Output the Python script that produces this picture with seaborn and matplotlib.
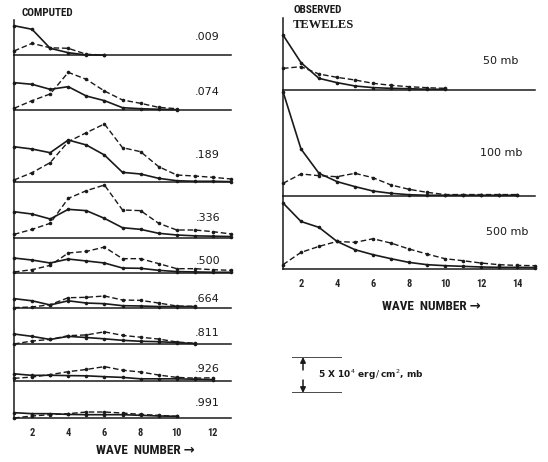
import matplotlib
matplotlib.use("Agg")
import matplotlib.pyplot as plt
import seaborn as sns
from matplotlib import font_manager

# spectra in units of 1e4 erg/cm^2/mb, index 0 = wave number 1
# computed, one pair per sigma level (solid / dashed)
sigma_labels = [".009", ".074", ".189", ".336", ".500", ".664", ".811", ".926", ".991"]

c009_solid = [4.07, 3.57, 0.93, 0.32, 0.0, 0.0]
c009_dash = [0.56, 1.62, 1.0, 0.93, 0.1, 0.0]
c074_solid = [3.8, 3.57, 2.87, 3.24, 1.94, 1.3, 0.32, 0.18, 0.1, 0.05]
c074_dash = [0.23, 1.3, 2.22, 5.23, 4.26, 2.64, 1.39, 0.93, 0.37, 0.18]
c189_solid = [4.9, 4.58, 4.07, 5.83, 5.14, 3.75, 1.34, 1.11, 0.51, 0.18, 0.1, 0.1, 0.05]
c189_dash = [0.28, 1.3, 2.69, 5.6, 6.85, 8.06, 4.77, 4.21, 2.13, 0.97, 0.83, 0.65, 0.42]
c336_solid = [3.65, 3.33, 2.64, 3.98, 3.8, 2.73, 1.43, 1.2, 0.65, 0.42, 0.3, 0.25, 0.2]
c336_dash = [0.5, 1.2, 2.04, 5.5, 6.57, 7.36, 3.89, 3.8, 2.04, 1.11, 1.11, 0.88, 0.56]
c500_solid = [2.08, 1.8, 1.39, 1.94, 1.67, 1.39, 0.69, 0.65, 0.37, 0.2, 0.15, 0.1, 0.1]
c500_dash = [0.14, 0.46, 1.06, 2.78, 3.0, 3.6, 1.99, 1.99, 1.3, 0.6, 0.6, 0.46, 0.37]
c664_solid = [1.3, 1.0, 0.42, 1.0, 0.69, 0.6, 0.32, 0.28, 0.2, 0.2, 0.2]
c664_dash = [0.05, 0.14, 0.46, 1.43, 1.48, 1.67, 1.11, 1.06, 0.69, 0.28, 0.23]
c811_solid = [1.39, 1.06, 0.63, 1.06, 0.9, 0.72, 0.51, 0.38, 0.32, 0.19, 0.06]
c811_dash = [0.0, 0.42, 0.63, 1.16, 1.26, 1.69, 1.2, 0.94, 0.69, 0.28, 0.1]
c926_solid = [1.0, 0.78, 0.8, 0.75, 0.72, 0.6, 0.5, 0.3, 0.3, 0.3, 0.25, 0.2]
c926_dash = [0.37, 0.55, 0.88, 1.3, 1.6, 2.0, 1.5, 1.25, 0.83, 0.5, 0.4, 0.45]
c991_solid = [0.74, 0.6, 0.6, 0.5, 0.46, 0.46, 0.46, 0.37, 0.28, 0.23]
c991_dash = [0.0, 0.28, 0.46, 0.6, 0.83, 0.83, 0.69, 0.5, 0.37, 0.23]

# observed (Teweles)
level_labels = ["50", "100", "500"]
o50_solid = [7.64, 3.8, 1.62, 1.02, 0.56, 0.33, 0.23, 0.18, 0.1, 0.1]
o50_dash = [3.0, 3.24, 2.22, 1.76, 1.39, 0.93, 0.65, 0.46, 0.32, 0.23]
o100_solid = [14.5, 6.53, 3.15, 2.0, 1.3, 0.69, 0.37, 0.18, 0.1, 0.1, 0.1, 0.1, 0.1, 0.1]
o100_dash = [1.76, 3.06, 2.82, 2.68, 3.15, 2.54, 1.53, 0.93, 0.51, 0.2, 0.2, 0.2, 0.2, 0.2]
o500_solid = [9.17, 6.6, 5.78, 3.83, 2.68, 1.99, 1.43, 0.92, 0.6, 0.46, 0.37, 0.28, 0.23, 0.23, 0.2]
o500_dash = [0.6, 2.31, 3.14, 3.83, 3.7, 4.2, 3.6, 2.78, 2.08, 1.43, 1.15, 0.83, 0.6, 0.5, 0.46]

computed = [
    (c009_solid, c009_dash), (c074_solid, c074_dash), (c189_solid, c189_dash),
    (c336_solid, c336_dash), (c500_solid, c500_dash), (c664_solid, c664_dash),
    (c811_solid, c811_dash), (c926_solid, c926_dash), (c991_solid, c991_dash),
]
observed = [(o50_solid, o50_dash), (o100_solid, o100_dash), (o500_solid, o500_dash)]
scale_units = 5  # 5 x 10^4 erg/cm^2 mb

# --- layout (pixels) ---
W, H = 548, 462
PX_PER_UNIT = 7.2
left_x = (14, 231)
left_edges = [20, 55, 110, 182, 238, 273, 308, 344, 381, 418]
left_label_y = [37, 92, 155, 218, 261, 299, 333, 369, 403]
right_x = (283, 535)
right_edges = [18, 90, 196, 269]
right_label_pos = [(501, 61), (501, 153), (507, 232)]

sns.set_style("white")
names = {f.name for f in font_manager.fontManager.ttflist}
narrow = next((n for n in ["Liberation Sans Narrow", "Roboto Condensed"] if n in names), "DejaVu Sans")
narrow_fam = [narrow, "DejaVu Sans"]
plt.rcParams["font.family"] = ["DejaVu Sans"]

INK = "#1a1a1a"


def fx(px):
    return px / W


def fy(py):
    return 1 - py / H


def add_panel(fig, x_px, top, bottom, xmax):
    ax = fig.add_axes([fx(x_px[0]), fy(bottom), fx(x_px[1] - x_px[0]), (bottom - top) / H])
    ax.set_xlim(1, xmax)
    ax.set_ylim(0, (bottom - top) / PX_PER_UNIT)
    for s in ["top", "right"]:
        ax.spines[s].set_visible(False)
    for s in ["left", "bottom"]:
        ax.spines[s].set_color(INK)
        ax.spines[s].set_linewidth(1.1)
    ax.set_yticks([])
    ax.set_xticks([])
    ax.patch.set_alpha(0)
    return ax


def draw_pair(ax, solid, dash):
    sns.lineplot(x=list(range(1, len(solid) + 1)), y=solid, ax=ax, color=INK, lw=1.2,
                 marker="o", markersize=2.6, markeredgewidth=0, errorbar=None, clip_on=False)
    sns.lineplot(x=list(range(1, len(dash) + 1)), y=dash, ax=ax, color=INK, lw=1.0,
                 linestyle=(0, (4, 2)), marker="o", markersize=2.6, markeredgewidth=0,
                 errorbar=None, clip_on=False)
    ax.set_xlabel("")
    ax.set_ylabel("")


def wave_axis(ax, xmax):
    ticks = list(range(1, xmax + 1))
    ax.set_xticks(ticks)
    ax.set_xticklabels([str(t) if t % 2 == 0 else "" for t in ticks],
                       fontfamily=narrow_fam, fontweight="bold", fontsize=7.5)
    ax.tick_params(axis="x", direction="out", length=5, width=1.2, color=INK, pad=2)


fig = plt.figure(figsize=(W / 100, H / 100), dpi=100)

# computed column
for i, (solid, dash) in enumerate(computed):
    ax = add_panel(fig, left_x, left_edges[i], left_edges[i + 1], 13)
    draw_pair(ax, solid, dash)
    fig.text(fx(220), fy(left_label_y[i]), sigma_labels[i], ha="right", va="center",
             fontsize=8, color=INK)
wave_axis(ax, 13)

# observed column
for i, (solid, dash) in enumerate(observed):
    ax = add_panel(fig, right_x, right_edges[i], right_edges[i + 1], 15)
    draw_pair(ax, solid, dash)
    px, py = right_label_pos[i]
    fig.text(fx(px), fy(py), f"{level_labels[i]} mb", ha="center", va="center",
             fontsize=8, color=INK)
wave_axis(ax, 15)

# headings
fig.text(fx(22), fy(13), "COMPUTED", fontfamily=narrow_fam, fontweight="bold", fontsize=8,
         ha="left", va="center", color=INK)
fig.text(fx(293), fy(10), "OBSERVED", fontfamily=narrow_fam, fontweight="bold", fontsize=8,
         ha="left", va="center", color=INK)
fig.text(fx(293), fy(25), "TEWELES", fontfamily="Liberation Serif", fontweight="bold",
         fontsize=9, ha="left", va="center", color=INK)
fig.text(fx(145), fy(450), "WAVE  NUMBER \u2192", fontfamily=narrow_fam, fontweight="bold",
         fontsize=9.5, ha="center", va="center", color=INK)
fig.text(fx(431), fy(307), "WAVE  NUMBER \u2192", fontfamily=narrow_fam, fontweight="bold",
         fontsize=9.5, ha="center", va="center", color=INK)

# scale bar: 5 x 10^4 erg/cm^2 mb
top, bottom = 357, 357 + scale_units * PX_PER_UNIT
sax = fig.add_axes([fx(292), fy(bottom), fx(50), (bottom - top) / H])
sax.set_xlim(0, 1)
sax.set_ylim(0, scale_units)
sax.axis("off")
sax.hlines([0, scale_units], 0, 1, color=INK, lw=1.1)
arrow = dict(arrowstyle="-|>", color=INK, lw=1.1, mutation_scale=8, shrinkA=0, shrinkB=0)
sax.annotate("", xy=(0.22, scale_units), xytext=(0.22, scale_units * 0.64), arrowprops=arrow)
sax.annotate("", xy=(0.22, 0), xytext=(0.22, scale_units * 0.36), arrowprops=arrow)
fig.text(fx(318), fy(375), r"5 X 10$^4$ erg$\,/\,$cm$^2$, mb", fontsize=6.5,
         fontweight="bold", ha="left", va="center", color=INK)

fig.savefig("out.png", dpi=100)
